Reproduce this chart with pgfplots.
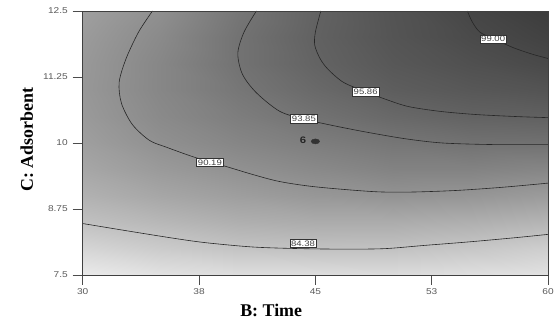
\documentclass[border=0pt]{standalone}
\usepackage{fontspec}
\setmainfont{Liberation Serif}
\newfontfamily\arialf{Liberation Sans}[FakeStretch=1.2]
\usepackage{pgfplots}
\pgfplotsset{compat=1.18}
\begin{document}
\begin{tikzpicture}
\begin{axis}[
  scale only axis, width=467bp, height=265bp,
  xmin=30, xmax=60, ymin=7.5, ymax=12.5,
  xtick={30,37.5,45,52.5,60}, xticklabels={30,38,45,53,60},
  ytick={7.5,8.75,10,11.25,12.5}, yticklabels={7.5,8.75,10,11.25,12.5},
  xtick pos=bottom, ytick pos=left,
  tick align=outside, major tick length=10bp,
  tick style={black!70, line width=0.6bp},
  axis line style={black!75, line width=0.8bp},
  ticklabel style={font=\arialf\fontsize{8.5}{9}\selectfont, text=black!65},
  xticklabel style={yshift=-0.5bp},
  yticklabel style={xshift=-1.5bp},
  xlabel={B: Time}, ylabel={C: Adsorbent},
  label style={font=\fontsize{18}{20}\selectfont\bfseries},
  xlabel style={at={(axis description cs:0.405,0)}, anchor=base, yshift=-42bp},
  ylabel style={at={(axis description cs:-0.107,0.513)}, anchor=base},
  colormap={gr}{gray(0cm)=(0.92); gray(1cm)=(0.235)},
  point meta min=79.5, point meta max=100.3,
  axis on top,
  clip=true,
]
\addplot[surf, shader=interp, mesh/cols=7, point meta=explicit] table[meta=z] {
x y z
30 7.5 79.5
35 7.5 80.5
40 7.5 81.0
45 7.5 81.0
50 7.5 81.2
55 7.5 80.8
60 7.5 80.5
30 8.0 82.0
35 8.0 83.2
40 8.0 84.1
45 8.0 84.4
50 8.0 84.3
55 8.0 83.7
60 8.0 82.8
30 8.5 84.5
35 8.5 85.6
40 8.5 86.6
45 8.5 87.0
50 8.5 87.0
55 8.5 86.6
60 8.5 85.9
30 9.0 86.3
35 9.0 87.6
40 9.0 88.6
45 9.0 89.4
50 9.0 89.9
55 9.0 89.6
60 9.0 88.9
30 9.5 87.6
35 9.5 89.1
40 9.5 90.2
45 9.5 91.1
50 9.5 91.9
55 9.5 91.9
60 9.5 91.5
30 10.0 88.5
35 10.0 90.25
40 10.0 91.5
45 10.0 92.5
50 10.0 93.4
55 10.0 93.9
60 10.0 94.0
30 10.5 89.1
35 10.5 91.0
40 10.5 92.5
45 10.5 93.85
50 10.5 95.0
55 10.5 95.7
60 10.5 95.95
30 11.0 89.4
35 11.0 91.4
40 11.0 93.3
45 11.0 94.9
50 11.0 96.3
55 11.0 97.0
60 11.0 97.5
30 11.5 89.3
35 11.5 91.4
40 11.5 93.8
45 11.5 95.6
50 11.5 97.0
55 11.5 97.9
60 11.5 98.75
30 12.0 89.0
35 12.0 91.0
40 12.0 93.8
45 12.0 95.85
50 12.0 97.4
55 12.0 98.6
60 12.0 99.6
30 12.5 88.5
35 12.5 90.4
40 12.5 93.4
45 12.5 95.7
50 12.5 97.5
55 12.5 99.1
60 12.5 100.3
};
% contour 84.38
\addplot[black!85, line width=0.6bp, smooth, tension=0.5] coordinates {
(30,8.475) (33,8.33) (36,8.19) (38,8.11) (41,8.03) (44,8.0) (47,7.99) (49.5,8.0) (52,8.06) (55,8.13) (58,8.21) (60,8.27)};
% contour 90.19
\addplot[black!85, line width=0.6bp, smooth, tension=0.5] coordinates {
(34.5,12.5) (33.6,12.1) (32.8,11.6) (32.35,11.15) (32.5,10.75) (33.2,10.35) (34.3,10.05) (35.4,9.92) (37,9.75) (38.2,9.64) (39.3,9.55) (41,9.40) (42.7,9.27) (45,9.17) (48.7,9.08) (51,9.07) (54,9.1) (57,9.16) (60,9.24)};
% contour 93.85
\addplot[black!85, line width=0.6bp, smooth, tension=0.5] coordinates {
(41.2,12.5) (40.4,12.1) (40.0,11.7) (40.3,11.3) (41.2,10.95) (42.7,10.6) (44.3,10.45) (46.3,10.32) (48.4,10.2) (50.8,10.08) (53.2,10.0) (56.5,9.97) (60,9.97)};
% contour 95.86
\addplot[black!85, line width=0.6bp, smooth, tension=0.5] coordinates {
(45.35,12.5) (45.0,12.1) (44.96,11.85) (45.3,11.6) (45.8,11.4) (46.8,11.15) (48.25,10.97) (49.6,10.82) (51,10.69) (53,10.6) (55.3,10.54) (58,10.5) (60,10.48)};
% contour 99.00
\addplot[black!85, line width=0.6bp, smooth, tension=0.5] coordinates {
(54.8,12.5) (55.1,12.3) (55.6,12.1) (56.5,11.97) (57.8,11.8) (59,11.68) (60,11.6)};
% design point
\addplot[only marks, mark=*, mark size=2.5bp, mark options={xscale=1.7, yscale=1, fill=black!80, draw=black!80}] coordinates {(45,10.03)};
\tikzset{clab/.style={draw=black!80, fill=white, inner sep=1.3bp, line width=0.4bp, font=\arialf\fontsize{8}{9}\selectfont, text=black!75}}
\node[clab] at (axis cs:44.2,8.10) {84.38};
\node[clab] at (axis cs:38.2,9.63) {90.19};
\node[clab] at (axis cs:44.26,10.46) {93.85};
\node[clab] at (axis cs:48.24,10.97) {95.86};
\node[clab] at (axis cs:56.46,11.97) {99.00};
\node[font=\arialf\fontsize{9.5}{10}\selectfont\bfseries, text=black!85] at (axis cs:44.2,10.06) {6};
\end{axis}
\path ([xshift=-83bp,yshift=-45bp]current axis.south west) rectangle ([xshift=7bp,yshift=11bp]current axis.north east);
\end{tikzpicture}
\end{document}
